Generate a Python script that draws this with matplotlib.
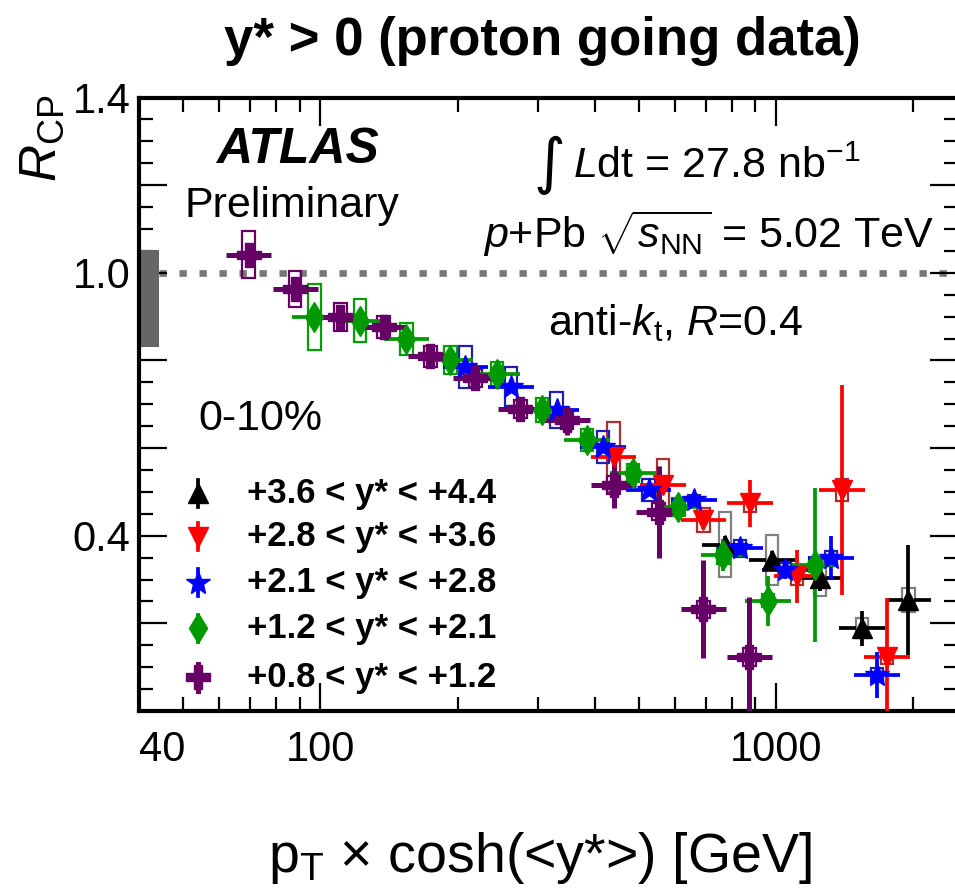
import matplotlib
matplotlib.use("Agg")
import matplotlib.pyplot as plt
from matplotlib.patches import Rectangle
from matplotlib.ticker import FixedLocator, NullFormatter

plt.rcParams['font.family'] = ['Liberation Sans', 'DejaVu Sans']
plt.rcParams['mathtext.fontset'] = 'custom'
plt.rcParams['mathtext.rm'] = 'Liberation Sans'
plt.rcParams['mathtext.it'] = 'Liberation Sans:italic'
plt.rcParams['mathtext.bf'] = 'Liberation Sans:bold'

# R_CP vs pT x cosh(<y*>), 0-10% centrality, one list per rapidity bin
x_08 = [69.6, 88.1, 110.6, 137.6, 174.3, 218.8, 274.6, 347.6, 439.9, 552, 692.7, 874]
y_08 = [1.041, 0.963, 0.899, 0.877, 0.809, 0.760, 0.689, 0.663, 0.516, 0.455, 0.232, 0.123]
stat_08 = [0.023, 0.028, 0.017, 0.02, 0.015, 0.02, 0.025, 0.034, 0.053, 0.105, 0.112, 0.138]
sys_08 = [0.054, 0.04, 0.032, 0.025, 0.023, 0.02, 0.02, 0.02, 0.02, 0.02, 0.02, 0.02]

x_12 = [97, 122, 154.4, 192.8, 244, 306.4, 384.5, 485, 610.6, 766, 961, 1218]
y_12 = [0.899, 0.891, 0.849, 0.801, 0.769, 0.687, 0.619, 0.543, 0.466, 0.356, 0.252, 0.333]
stat_12 = [0.015, 0.015, 0.015, 0.015, 0.012, 0.012, 0.012, 0.015, 0.015, 0.036, 0.057, 0.175]
sys_12 = [0.075, 0.05, 0.037, 0.032, 0.028, 0.027, 0.025, 0.02, 0.02, 0.02, 0.015, 0.015]

x_21 = [208, 262, 330, 416.5, 525, 660.7, 834, 1046, 1320, 1663]
y_21 = [0.786, 0.740, 0.687, 0.603, 0.505, 0.482, 0.371, 0.322, 0.349, 0.082]
stat_21 = [0.012, 0.012, 0.012, 0.015, 0.015, 0.015, 0.02, 0.02, 0.05, 0.053]
sys_21 = [0.048, 0.045, 0.042, 0.036, 0.025, 0.012, 0.019, 0.015, 0.017, 0.015]

x_28 = [440, 564, 692.7, 877, 1110, 1394, 1750]
y_28 = [0.58, 0.516, 0.436, 0.474, 0.307, 0.504, 0.124]
stat_28 = [0.02, 0.02, 0.02, 0.053, 0.061, 0.24, 0.134]
sys_28 = [0.08, 0.06, 0.028, 0.019, 0.02, 0.025, 0.017]

x_36 = [773, 979, 1249, 1542, 1951]
y_36 = [0.379, 0.345, 0.303, 0.189, 0.253]
stat_36 = [0.02, 0.02, 0.03, 0.04, 0.125]
sys_36 = [0.074, 0.057, 0.04, 0.023, 0.027]

labels = ["+3.6 < y* < +4.4", "+2.8 < y* < +3.6", "+2.1 < y* < +2.8",
          "+1.2 < y* < +2.1", "+0.8 < y* < +1.2"]

# normalisation uncertainty band at unity
norm_lo, norm_hi = 0.83, 1.053

y_ticks_labelled = {0.4: "0.4", 1.0: "1.0", 1.4: "1.4"}

half_bin = 10 ** 0.05     # 10 bins per decade
box_half = 10 ** 0.0136
gap = 10 ** 0.012

series = [
    # x, y, stat, sys, marker, size, color, box color, lw, gap
    (x_36, y_36, stat_36, sys_36, '^', 15, 'black', '#808080', 2.7, True),
    (x_28, y_28, stat_28, sys_28, 'v', 15, '#ff0000', '#a83030', 2.7, True),
    (x_21, y_21, stat_21, sys_21, '*', 18, '#0000ff', '#2020b0', 2.7, True),
    (x_12, y_12, stat_12, sys_12, 'd', 15, '#009900', '#00a000', 2.7, True),
    (x_08, y_08, stat_08, sys_08, 'P', 17, '#660066', '#660066', 3.6, False),
]

fig = plt.figure(figsize=(9.55, 8.92), dpi=100)
ax = fig.add_axes([139 / 955, 1 - 711 / 892, 818.5 / 955, 613.5 / 892])
ax.set_xscale('log')
ax.set_xlim(40, 2500)
ax.set_ylim(0, 1.4)

# reference line and normalisation box
ax.axhline(1.0, color='#777777', lw=4.8, ls=(0, (1.1, 1.9)), dash_capstyle='butt', zorder=1)
ax.add_patch(Rectangle((40, norm_lo), 44.3 - 40, norm_hi - norm_lo,
                       facecolor='#666666', edgecolor='none', zorder=2))

for xs, ys, st, sy, mk, ms, col, bcol, lw, brk in series:
    for xi, yi, si, ei in zip(xs, ys, st, sy):
        ax.add_patch(Rectangle((xi / box_half, yi - ei), xi * box_half - xi / box_half, 2 * ei,
                               facecolor='none', edgecolor=bcol, lw=1.6, zorder=3))
        if brk:
            ax.plot([xi / half_bin, xi / gap], [yi, yi], color=col, lw=lw, solid_capstyle='butt', zorder=4)
            ax.plot([xi * gap, xi * half_bin], [yi, yi], color=col, lw=lw, solid_capstyle='butt', zorder=4)
        else:
            ax.plot([xi / half_bin, xi * half_bin], [yi, yi], color=col, lw=lw, solid_capstyle='butt', zorder=4)
        ax.plot([xi, xi], [yi - si, yi + si], color=col, lw=lw, solid_capstyle='butt', zorder=4)
    ax.plot(xs, ys, ls='none', marker=mk, ms=ms, color=col, mec=col, zorder=5)

# axes styling
ax.xaxis.set_major_locator(FixedLocator([40, 100, 1000]))
ax.xaxis.set_minor_locator(FixedLocator([50, 60, 70, 80, 90, 200, 300, 400, 500, 600, 700, 800, 900, 2000]))
ax.xaxis.set_minor_formatter(NullFormatter())
ax.set_xticklabels(["40", "100", "1000"])
for lab in ax.get_xticklabels():
    if lab.get_text() == "40":
        lab.set_horizontalalignment('left')

yt = [0.0, 0.2, 0.4, 0.6, 0.8, 1.0, 1.2, 1.4]
ax.set_yticks(yt)
ax.set_yticklabels([y_ticks_labelled.get(round(v, 1), "") for v in yt])
ax.yaxis.set_minor_locator(FixedLocator([i * 0.05 for i in range(29)]))

ax.tick_params(which='both', direction='in', top=True, right=True, width=1.6, labelsize=30)
ax.tick_params(which='major', length=20)
ax.tick_params(which='minor', length=10)
ax.tick_params(axis='x', pad=14)
ax.tick_params(axis='y', pad=6)
for sp in ax.spines.values():
    sp.set_linewidth(3)

# text
ax.text(0.194, 0.893, "ATLAS", transform=ax.transAxes, fontsize=36, fontweight='bold',
        style='italic', ha='center', va='baseline')
ax.text(0.187, 0.806, "Preliminary", transform=ax.transAxes, fontsize=31, ha='center', va='baseline')
ax.text(0.482, 0.862, "\u222b", transform=ax.transAxes, fontsize=44, family='DejaVu Sans',
        ha='left', va='baseline')
ax.text(0.530, 0.869, r"$L$dt = 27.8 nb$^{\mathrm{-1}}$", transform=ax.transAxes,
        fontsize=31, ha='left', va='baseline')
ax.text(0.42, 0.755, r"$p$+Pb $\sqrt{s_{\mathrm{NN}}}$ = 5.02 TeV", transform=ax.transAxes,
        fontsize=31, ha='left', va='baseline')
ax.text(0.50, 0.613, r"anti-$k_{\mathrm{t}}$, $R$=0.4", transform=ax.transAxes,
        fontsize=31, ha='left', va='baseline')
ax.text(0.072, 0.458, "0-10%", transform=ax.transAxes, fontsize=31, ha='left', va='baseline')

# legend
leg_y = [0.355, 0.284, 0.209, 0.135, 0.055]
for (xs, ys, st, sy, mk, ms, col, bcol, lw, brk), ly, lab in zip(series, leg_y, labels):
    ax.plot([0.0717, 0.0717], [ly - 0.022, ly + 0.022], color=col, lw=lw,
            transform=ax.transAxes, clip_on=False, zorder=6)
    ax.plot([0.0717], [ly], marker=mk, ms=ms, color=col, transform=ax.transAxes,
            clip_on=False, zorder=7)
    ax.text(0.132, ly, lab, transform=ax.transAxes, fontsize=25, fontweight='bold',
            ha='left', va='center')

fig.text(542 / 955, 1 - 55 / 892, "y* > 0 (proton going data)", fontsize=38,
         fontweight='bold', ha='center', va='baseline')
fig.text(540 / 955, 1 - 872 / 892, r"p$_{\mathrm{T}}$ × cosh(<y*>) [GeV]", fontsize=40,
         ha='center', va='baseline')
fig.text(42 / 955, 1 - 138 / 892, r"$R_{\mathrm{CP}}$", fontsize=37, rotation=90,
         ha='center', va='center')

fig.savefig("out.png", dpi=100)
